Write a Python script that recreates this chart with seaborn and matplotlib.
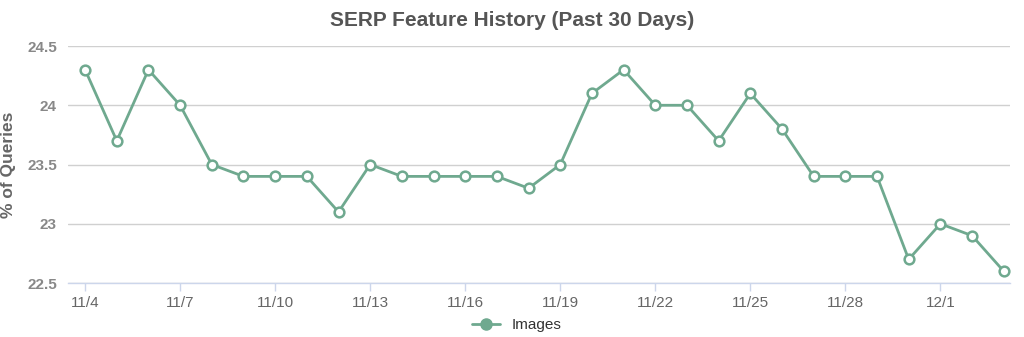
import matplotlib
matplotlib.use("Agg")
import matplotlib.pyplot as plt
import seaborn as sns
import pandas as pd
from matplotlib.lines import Line2D

dates = ["11/4", "11/5", "11/6", "11/7", "11/8", "11/9", "11/10", "11/11", "11/12", "11/13",
         "11/14", "11/15", "11/16", "11/17", "11/18", "11/19", "11/20", "11/21", "11/22", "11/23",
         "11/24", "11/25", "11/26", "11/27", "11/28", "11/29", "11/30", "12/1", "12/2", "12/3"]
images = [24.3, 23.7, 24.3, 24.0, 23.5, 23.4, 23.4, 23.4, 23.1, 23.5,
          23.4, 23.4, 23.4, 23.4, 23.3, 23.5, 24.1, 24.3, 24.0, 24.0,
          23.7, 24.1, 23.8, 23.4, 23.4, 23.4, 22.7, 23.0, 22.9, 22.6]
y_ticks = [22.5, 23, 23.5, 24, 24.5]
y_labels = ["22.5", "23", "23.5", "24", "24.5"]

sns.set_theme(style="white")
plt.rcParams['font.family'] = ['Liberation Sans', 'DejaVu Sans']

df = pd.DataFrame({"idx": range(len(dates)), "date": dates, "value": images})

color = "#6fa98f"
fig = plt.figure(figsize=(10.24, 3.37), dpi=100)
ax = fig.add_axes([0.0664, 0.160, 0.920, 0.7035])

sns.lineplot(data=df, x="idx", y="value", ax=ax, color=color, linewidth=2.0,
             marker="o", markersize=7, markerfacecolor="white",
             markeredgecolor=color, markeredgewidth=1.8, legend=False)

ax.set_ylim(22.5, 24.5)
ax.set_xlim(-0.54, 29.2)
ax.set_yticks(y_ticks)
ax.set_yticklabels(y_labels, fontsize=11, fontweight="bold", color="#888888")
tick_pos = list(range(0, len(dates), 3))
ax.set_xticks(tick_pos)
ax.set_xticklabels([dates[i] for i in tick_pos], fontsize=11, color="#666666")
ax.grid(axis="y", color="#d0d0d0", linewidth=1)
for s in ["top", "right", "left"]:
    ax.spines[s].set_visible(False)
ax.spines["bottom"].set_color("#ccd6eb")
ax.spines["bottom"].set_linewidth(1)
ax.tick_params(axis="x", length=6, color="#ccd6eb", width=1, pad=3, direction="out", bottom=True)
ax.tick_params(axis="y", length=0, pad=8)
ax.set_xlabel("")
ax.set_ylabel("% of Queries", fontsize=12.5, fontweight="bold", color="#666666")
ax.yaxis.set_label_coords(-0.055, 0.5)

fig.text(0.5, 0.94, "SERP Feature History (Past 30 Days)", ha="center", va="center",
         fontsize=15, fontweight="bold", color="#555555")

handle = Line2D([0], [0], color=color, linewidth=2, marker="o", markersize=8,
                markerfacecolor=color, markeredgecolor=color)
fig.legend([handle], ["Images"], loc="center", bbox_to_anchor=(0.505, 0.036),
           frameon=False, fontsize=11, handlelength=1.8, labelcolor="#333333")

fig.savefig("out.png", dpi=100)
